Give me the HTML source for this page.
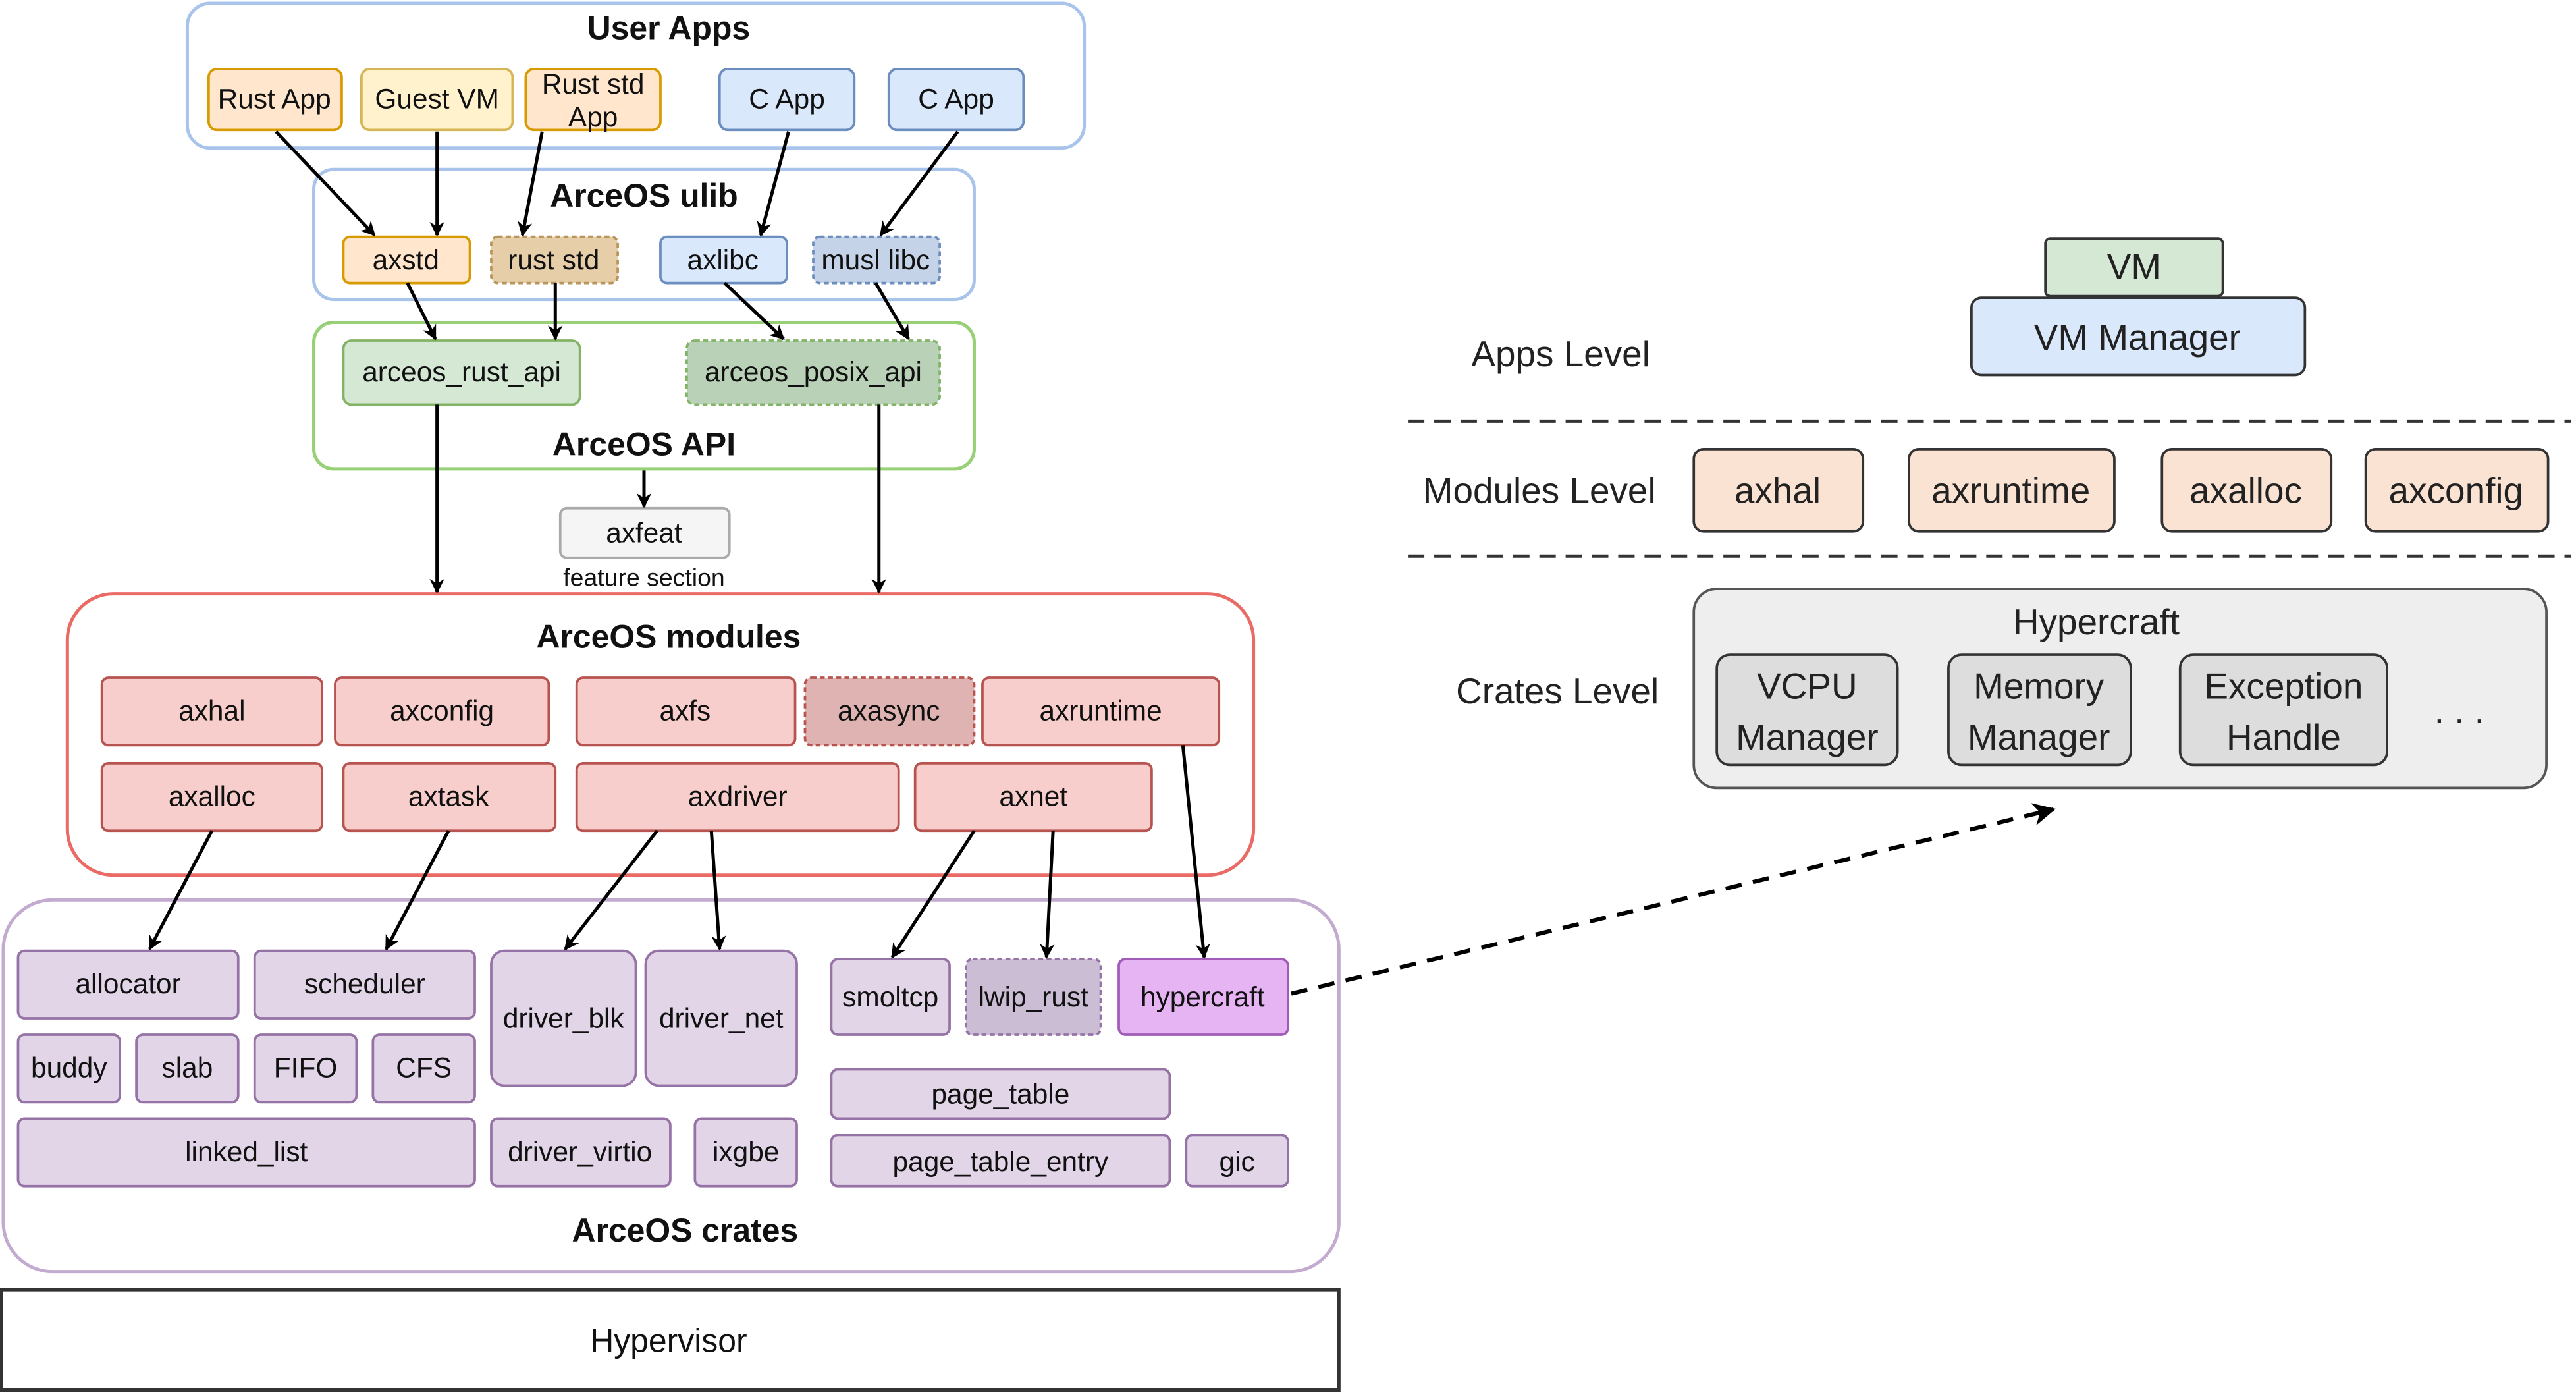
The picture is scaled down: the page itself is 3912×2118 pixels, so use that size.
<!DOCTYPE html>
<html><head><meta charset="utf-8"><style>
html,body{margin:0;padding:0;background:#fff;width:3912px;height:2118px;overflow:hidden}
svg{display:block}
text{font-family:"Liberation Sans",sans-serif;fill:#111;text-anchor:middle;dominant-baseline:central}
.t{font-size:17px}
.b{font-size:20px;font-weight:bold}
.r{font-size:22px;fill:#222}
</style></head><body>
<svg width="3912" height="2118" viewBox="0 0 1568 848" preserveAspectRatio="none">
<defs>
<marker id="a" viewBox="0 0 10 10" refX="9" refY="5" markerWidth="9" markerHeight="9" markerUnits="userSpaceOnUse" orient="auto"><path d="M0,0 L10,5 L0,10 L3,5 z" fill="#000"/></marker>
<marker id="a2" viewBox="0 0 10 10" refX="9" refY="5" markerWidth="14" markerHeight="14" markerUnits="userSpaceOnUse" orient="auto"><path d="M0,0 L10,5 L0,10 L3,5 z" fill="#000"/></marker>
</defs>
<!-- containers -->
<rect x="114" y="2" width="546" height="88" rx="14" fill="#fff" stroke="#a9c4eb" stroke-width="2"/>
<text class="b" x="407" y="17">User Apps</text>
<rect x="191" y="103" width="402" height="79" rx="12" fill="#fff" stroke="#a9c4eb" stroke-width="2"/>
<text class="b" x="392" y="119">ArceOS ulib</text>
<rect x="191" y="196" width="402" height="89" rx="12" fill="#fff" stroke="#97d077" stroke-width="2"/>
<text class="b" x="392" y="270">ArceOS API</text>
<rect x="41" y="361" width="722" height="171" rx="28" fill="#fff" stroke="#ea6b66" stroke-width="2"/>
<text class="b" x="407" y="387">ArceOS modules</text>
<rect x="2" y="547" width="813" height="226" rx="30" fill="#fff" stroke="#c3abd0" stroke-width="2"/>
<text class="b" x="417" y="748">ArceOS crates</text>
<rect x="1" y="784" width="814" height="61" fill="#fff" stroke="#333" stroke-width="2"/>
<text class="t" x="407" y="815" style="font-size:20px">Hypervisor</text>

<g stroke-width="1.5">
<!-- user apps -->
<rect x="127" y="42" width="81" height="37" rx="5" fill="#ffe6cc" stroke="#d79b00"/><text class="t" x="167" y="60">Rust App</text>
<rect x="220" y="42" width="92" height="37" rx="5" fill="#fff2cc" stroke="#d6b656"/><text class="t" x="266" y="60">Guest VM</text>
<rect x="320" y="42" width="82" height="37" rx="5" fill="#ffe6cc" stroke="#d79b00"/><text class="t" x="361" y="51">Rust std</text><text class="t" x="361" y="71">App</text>
<rect x="438" y="42" width="82" height="37" rx="5" fill="#dae8fc" stroke="#6c8ebf"/><text class="t" x="479" y="60">C App</text>
<rect x="541" y="42" width="82" height="37" rx="5" fill="#dae8fc" stroke="#6c8ebf"/><text class="t" x="582" y="60">C App</text>
<!-- ulib -->
<rect x="209" y="144" width="77" height="28" rx="4" fill="#ffe6cc" stroke="#d79b00"/><text class="t" x="247" y="158">axstd</text>
<rect x="299" y="144" width="77" height="28" rx="4" fill="#e6cfa8" stroke="#b8955a" stroke-dasharray="3 2"/><text class="t" x="337" y="158">rust std</text>
<rect x="402" y="144" width="77" height="28" rx="4" fill="#dae8fc" stroke="#6c8ebf"/><text class="t" x="440" y="158">axlibc</text>
<rect x="495" y="144" width="77" height="28" rx="4" fill="#c5d3e8" stroke="#6c8ebf" stroke-dasharray="3 2"/><text class="t" x="533" y="158">musl libc</text>
<!-- api -->
<rect x="209" y="207" width="144" height="39" rx="5" fill="#d5e8d4" stroke="#82b366"/><text class="t" x="281" y="226">arceos_rust_api</text>
<rect x="418" y="207" width="154" height="39" rx="5" fill="#b9d1b6" stroke="#82b366" stroke-dasharray="3 2"/><text class="t" x="495" y="226">arceos_posix_api</text>
<rect x="341" y="309" width="103" height="30" rx="4" fill="#f5f5f5" stroke="#aaa"/><text class="t" x="392" y="324">axfeat</text>
<text x="392" y="351" style="font-size:15px">feature section</text>
<!-- modules -->
<g fill="#f8cecc" stroke="#b85450">
<rect x="62" y="412" width="134" height="41" rx="4"/><rect x="204" y="412" width="130" height="41" rx="4"/><rect x="351" y="412" width="133" height="41" rx="4"/><rect x="598" y="412" width="144" height="41" rx="4"/>
<rect x="62" y="464" width="134" height="41" rx="4"/><rect x="209" y="464" width="129" height="41" rx="4"/><rect x="351" y="464" width="196" height="41" rx="4"/><rect x="557" y="464" width="144" height="41" rx="4"/>
</g>
<rect x="490" y="412" width="103" height="41" rx="4" fill="#dfb3b1" stroke="#b85450" stroke-dasharray="3 2"/>
<text class="t" x="129" y="432">axhal</text><text class="t" x="269" y="432">axconfig</text><text class="t" x="417" y="432">axfs</text><text class="t" x="541" y="432">axasync</text><text class="t" x="670" y="432">axruntime</text>
<text class="t" x="129" y="484">axalloc</text><text class="t" x="273" y="484">axtask</text><text class="t" x="449" y="484">axdriver</text><text class="t" x="629" y="484">axnet</text>
<!-- crates -->
<g fill="#e1d5e7" stroke="#9673a6">
<rect x="11" y="578" width="134" height="41" rx="4"/><rect x="155" y="578" width="134" height="41" rx="4"/>
<rect x="11" y="629" width="62" height="41" rx="4"/><rect x="83" y="629" width="62" height="41" rx="4"/><rect x="155" y="629" width="62" height="41" rx="4"/><rect x="227" y="629" width="62" height="41" rx="4"/>
<rect x="11" y="680" width="278" height="41" rx="4"/>
<rect x="299" y="578" width="88" height="82" rx="8"/><rect x="393" y="578" width="92" height="82" rx="8"/>
<rect x="299" y="680" width="109" height="41" rx="4"/><rect x="423" y="680" width="62" height="41" rx="4"/>
<rect x="506" y="583" width="72" height="46" rx="4"/>
<rect x="506" y="650" width="206" height="30" rx="4"/><rect x="506" y="690" width="206" height="31" rx="4"/><rect x="722" y="690" width="62" height="31" rx="4"/>
</g>
<rect x="588" y="583" width="82" height="46" rx="4" fill="#cbbdd3" stroke="#9673a6" stroke-dasharray="3 2"/>
<rect x="681" y="583" width="103" height="46" rx="4" fill="#e6b3f3" stroke="#a05cb8"/>
<text class="t" x="78" y="598">allocator</text><text class="t" x="222" y="598">scheduler</text>
<text class="t" x="42" y="649">buddy</text><text class="t" x="114" y="649">slab</text><text class="t" x="186" y="649">FIFO</text><text class="t" x="258" y="649">CFS</text>
<text class="t" x="150" y="700">linked_list</text>
<text class="t" x="343" y="619">driver_blk</text><text class="t" x="439" y="619">driver_net</text>
<text class="t" x="353" y="700">driver_virtio</text><text class="t" x="454" y="700">ixgbe</text>
<text class="t" x="542" y="606">smoltcp</text><text class="t" x="629" y="606">lwip_rust</text><text class="t" x="732" y="606">hypercraft</text>
<text class="t" x="609" y="665">page_table</text><text class="t" x="609" y="706">page_table_entry</text><text class="t" x="753" y="706">gic</text>
</g>
<!-- arrows -->
<g stroke="#000" stroke-width="2" fill="none" marker-end="url(#a)">
<line x1="168" y1="80" x2="228" y2="143"/><line x1="266" y1="80" x2="266" y2="143"/><line x1="330" y1="80" x2="318" y2="143"/>
<line x1="480" y1="80" x2="463" y2="143"/><line x1="583" y1="80" x2="536" y2="143"/>
<line x1="248" y1="172" x2="265" y2="206"/><line x1="338" y1="172" x2="338" y2="206"/><line x1="441" y1="172" x2="477" y2="206"/><line x1="533" y1="172" x2="553" y2="206"/>
<line x1="266" y1="246" x2="266" y2="360"/><line x1="535" y1="246" x2="535" y2="360"/><line x1="392" y1="286" x2="392" y2="308"/>
<line x1="129" y1="505" x2="91" y2="577"/><line x1="273" y1="505" x2="235" y2="577"/>
<line x1="400" y1="505" x2="344" y2="577"/><line x1="433" y1="505" x2="438" y2="577"/>
<line x1="593" y1="505" x2="543" y2="582"/><line x1="641" y1="505" x2="637" y2="582"/>
<line x1="720" y1="453" x2="733" y2="582"/>
</g>
<line x1="786" y1="604" x2="1250" y2="492" stroke="#000" stroke-width="2.5" stroke-dasharray="10 7" marker-end="url(#a2)"/>

<!-- right side -->
<rect x="1245" y="145" width="108" height="35" rx="3" fill="#d5e8d4" stroke="#333" stroke-width="1.5"/><text class="r" x="1299" y="162">VM</text>
<rect x="1200" y="181" width="203" height="47" rx="6" fill="#dae8fc" stroke="#333" stroke-width="1.5"/><text class="r" x="1301" y="205">VM  Manager</text>
<text class="r" x="950" y="215">Apps  Level</text>
<line x1="857" y1="256" x2="1565" y2="256" stroke="#333" stroke-width="2" stroke-dasharray="10 6"/>
<text class="r" x="937" y="298">Modules  Level</text>
<g fill="#fbe3d3" stroke="#333" stroke-width="1.5">
<rect x="1031" y="273" width="103" height="50" rx="6"/><rect x="1162" y="273" width="125" height="50" rx="6"/><rect x="1316" y="273" width="103" height="50" rx="6"/><rect x="1440" y="273" width="111" height="50" rx="6"/>
</g>
<text class="r" x="1082" y="298">axhal</text><text class="r" x="1224" y="298">axruntime</text><text class="r" x="1367" y="298">axalloc</text><text class="r" x="1495" y="298">axconfig</text>
<line x1="857" y1="338" x2="1565" y2="338" stroke="#333" stroke-width="2" stroke-dasharray="10 6"/>
<text class="r" x="948" y="420">Crates  Level</text>
<rect x="1031" y="358" width="519" height="121" rx="14" fill="#eeeeee" stroke="#555" stroke-width="1.5"/>
<text class="r" x="1276" y="378">Hypercraft</text>
<g fill="#dddddd" stroke="#333" stroke-width="1.5">
<rect x="1045" y="398" width="110" height="67" rx="8"/><rect x="1186" y="398" width="111" height="67" rx="8"/><rect x="1327" y="398" width="126" height="67" rx="8"/>
</g>
<text class="r" x="1100" y="417">VCPU</text><text class="r" x="1100" y="448">Manager</text>
<text class="r" x="1241" y="417">Memory</text><text class="r" x="1241" y="448">Manager</text>
<text class="r" x="1390" y="417">Exception</text><text class="r" x="1390" y="448">Handle</text>
<text class="r" x="1497" y="432">. . .</text>
</svg>
</body></html>
